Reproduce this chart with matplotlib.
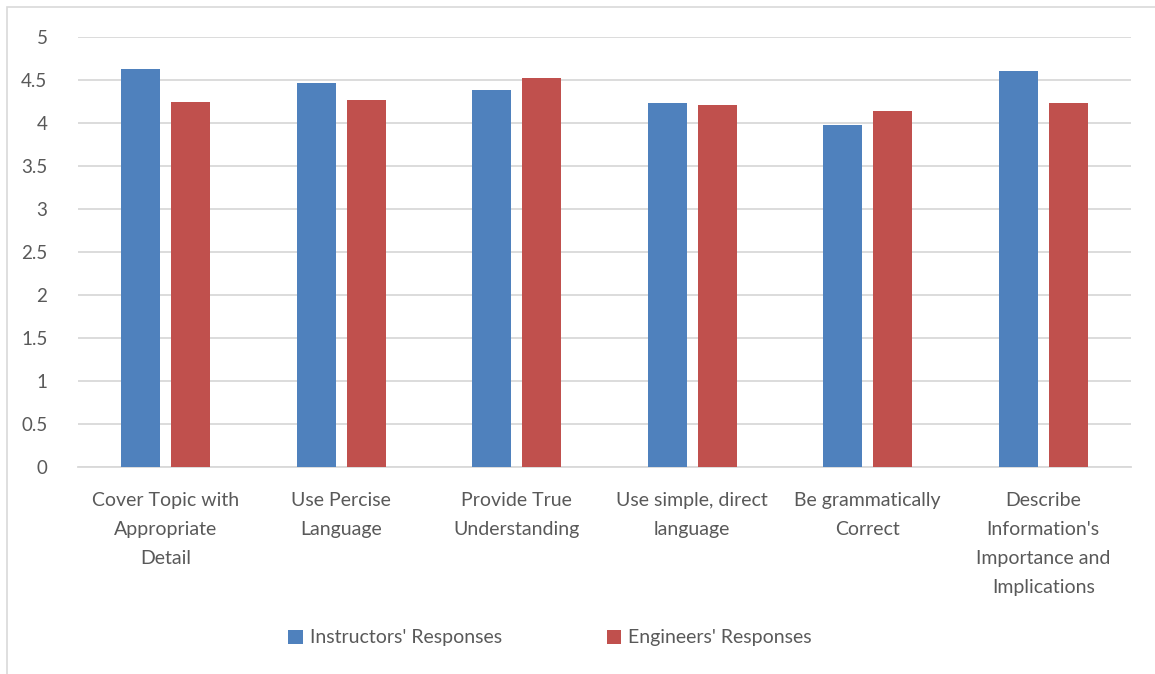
import numpy as np
import matplotlib.pyplot as plt
from matplotlib.patches import Rectangle

# Chart data
categories = ["Cover Topic with\nAppropriate\nDetail", "Use Percise\nLanguage",
              "Provide True\nUnderstanding", "Use simple, direct\nlanguage",
              "Be grammatically\nCorrect",
              "Describe\nInformation's\nImportance and\nImplications"]
instructors = [4.63, 4.47, 4.38, 4.23, 3.98, 4.60]
engineers = [4.25, 4.27, 4.52, 4.21, 4.14, 4.23]
yticks = [0, 0.5, 1, 1.5, 2, 2.5, 3, 3.5, 4, 4.5, 5]

plt.rcParams['font.family'] = ['Lato', 'DejaVu Sans']
text_col = '#595959'

fig = plt.figure(figsize=(11.55, 6.74), dpi=100)
ax = fig.add_axes([78 / 1155, 1 - 467 / 674, (1131 - 78) / 1155, 430 / 674])

x = np.arange(len(categories))
w = 0.222
gap = 0.0625
ax.bar(x - (w + gap) / 2, instructors, w, color='#4f81bd', label="Instructors' Responses", zorder=3)
ax.bar(x + (w + gap) / 2, engineers, w, color='#c0504d', label="Engineers' Responses", zorder=3)

ax.set_xlim(-0.5, len(categories) - 0.5)
ax.set_ylim(0, 5)
ax.set_yticks(yticks)
ax.set_yticklabels([('%g' % t) for t in yticks], fontsize=13.5, color=text_col)
ax.yaxis.grid(True, color='#d9d9d9', linewidth=1.3, zorder=0)
ax.set_xticks(x)
ax.set_xticklabels(categories, fontsize=14, color=text_col, linespacing=1.85, va='top')
ax.tick_params(axis='both', length=0)
ax.tick_params(axis='y', pad=22)
ax.tick_params(axis='x', pad=18)
for s in ['top', 'right', 'left']:
    ax.spines[s].set_visible(False)
ax.spines['bottom'].set_color('#d9d9d9')
ax.spines['bottom'].set_linewidth(1.3)

leg = fig.legend(loc='center', bbox_to_anchor=(550 / 1155, 1 - 638 / 674), ncol=2, frameon=False,
                 fontsize=14, handlelength=0.75, handleheight=0.75, handletextpad=0.35,
                 columnspacing=5.4)
for t in leg.get_texts():
    t.set_color(text_col)

# outer chart border
fig.patches.append(Rectangle((7 / 1155, -0.01), 1.2, 1 - 7 / 674 + 0.01, transform=fig.transFigure,
                             fill=False, edgecolor='#d9d9d9', linewidth=1.2))

fig.savefig('out.png', dpi=100, facecolor='white')
